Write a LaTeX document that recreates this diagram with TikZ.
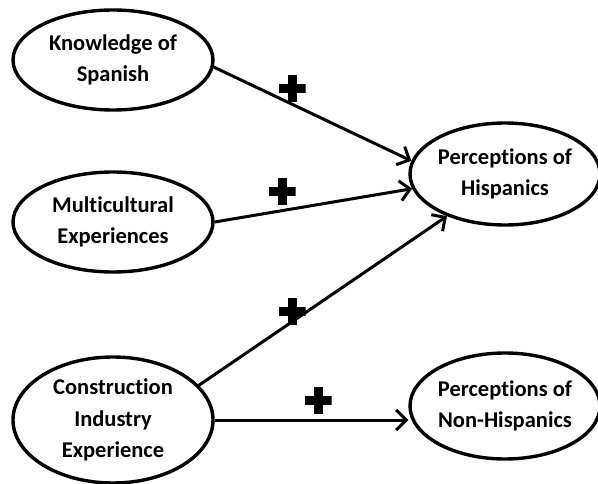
\documentclass[tikz,border=0pt]{standalone}
\usepackage{fontspec}
\setmainfont[Ligatures=NoCommon]{Carlito}
\usepackage{tikz}
\usetikzlibrary{shapes.geometric}
\usetikzlibrary{arrows.meta}

\begin{document}
\begin{tikzpicture}[x=1pt,y=-1pt,
	var/.style={draw,ellipse,line width=3.4pt,inner sep=0pt,align=center,
		font=\bfseries\fontsize{22.5}{31.5}\selectfont},
	path/.style={line width=3pt,-{Straight Barb[length=10pt,width=20pt,line width=3pt]}},
	plus/.style={minimum size=27pt,inner sep=0pt,
		path picture={
			\fill ([xshift=-4.5pt]path picture bounding box.north) rectangle ([xshift=4.5pt]path picture bounding box.south);
			\fill ([yshift=4.5pt]path picture bounding box.west) rectangle ([yshift=-4.5pt]path picture bounding box.east);}}]
	\useasboundingbox (0,0) rectangle (598,484);
	
	\node[var,minimum width=200pt,minimum height=100pt] (spanish) at (113,60) {Knowledge of\\Spanish};
	
	\node[var,minimum width=200pt,minimum height=100pt] (multi) at (113,222) {Multicultural\\Experiences};
	
	\node[var,minimum width=200pt,minimum height=126pt] (constr) at (113,420) {Construction\\Industry\\Experience};
	
	\node[var,minimum width=190pt,minimum height=102pt] (hisp) at (505,174) {Perceptions of\\Hispanics};
	
	\node[var,minimum width=190pt,minimum height=106pt] (nonhisp) at (505,406) {Perceptions of\\Non-Hispanics};
	
	\draw[path] (spanish.-4) -- (hisp.172);
	\draw[path] (multi.east) -- (hisp.189);
	\draw[path] (constr.22) -- (hisp.216);
	\draw[path] (constr.east) -- (constr.east -| nonhisp.west);
	
	\node[plus] (p1) at (292,89) {};
	\node[plus] (p2) at (282,192) {};
	\node[plus] (p3) at (292,312) {};
	\node[plus] (p4) at (318,400) {};
\end{tikzpicture}
\end{document}
